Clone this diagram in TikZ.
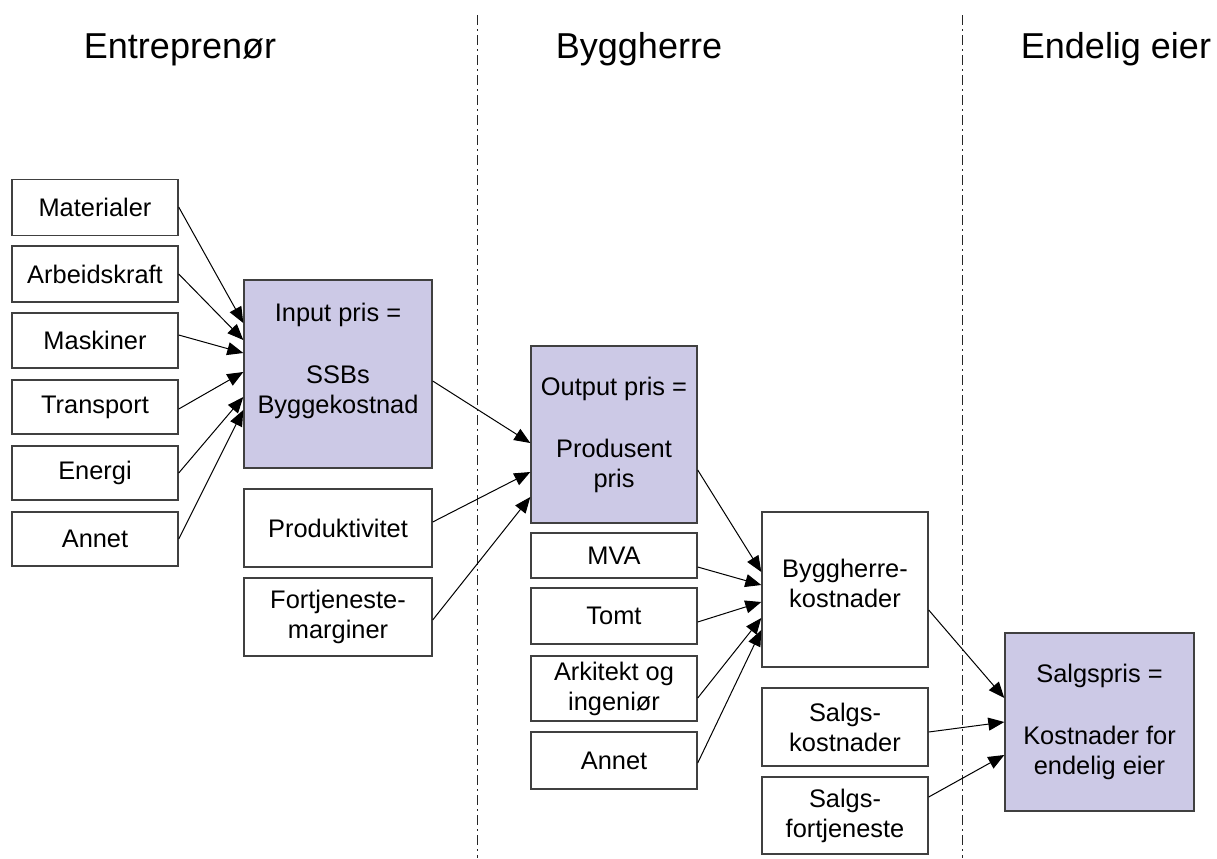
\documentclass[tikz,border=0pt]{standalone}
\usepackage{fontspec}
\setmainfont{Liberation Sans}
\usepackage{tikz}
\usetikzlibrary{arrows.meta}
\definecolor{prisfill}{RGB}{204,201,230}

\begin{document}
\begin{tikzpicture}[x=0.5pt,y=-0.5pt]
	\useasboundingbox (0,0) rectangle (1217,858);

	% skillelinjer
	\begin{scope}[line width=0.5pt, black!85, dash pattern=on 5pt off 2pt on 1pt off 2pt]
	    \draw (477,15) -- (477,858);
	    \draw (962,15) -- (962,858);
	\end{scope}

	\begin{scope}[every node/.style={anchor=base,font=\fontsize{18}{22}\selectfont}]
	    \node (entr) at (180,58) {Entreprenør};
	    \node (bh) at (639,58) {Byggherre};
	    \node (eier) at (1116,58) {Endelig eier};
	\end{scope}

	\begin{scope}[every node/.style={rectangle,draw=black!75,line width=0.7pt,align=center,
	              inner sep=1pt,font=\fontsize{12.7}{15}\selectfont}]
	    \node[minimum width=83pt,minimum height=28pt] (mat) at (95,207.5) {Materialer};
	    \node[minimum width=83pt,minimum height=28pt] (arb) at (95,274) {Arbeidskraft};
	    \node[minimum width=83pt,minimum height=27.5pt] (mask) at (95,340.5) {Maskiner};
	    \node[minimum width=83pt,minimum height=27pt] (trans) at (95,407) {Transport};
	    \node[minimum width=83pt,minimum height=27pt] (energi) at (95,473) {Energi};
	    \node[minimum width=83pt,minimum height=27pt] (annet) at (95,539) {Annet};

	    \node[fill=prisfill,minimum width=94pt,minimum height=94pt,
	          label={[draw=none,fill=none,yshift=6.5pt]center:{Input pris =\\[16pt]SSBs\\Byggekostnad}}]
	          (input) at (338,374) {};
	    \node[minimum width=94pt,minimum height=39pt] (prod) at (338,528) {Produktivitet};
	    \node[minimum width=94pt,minimum height=39pt] (fortj) at (338,617) {Fortjeneste-\\marginer};

	    \node[fill=prisfill,minimum width=83pt,minimum height=88.5pt] (output) at (614,434.5)
	          {Output pris =\\[16pt]Produsent\\pris};
	    \node[minimum width=83pt,minimum height=22.5pt] (mva) at (614,555.5) {MVA};
	    \node[minimum width=83pt,minimum height=28pt] (tomt) at (614,616) {Tomt};
	    \node[minimum width=83pt,minimum height=32.5pt] (ark) at (614,688.5) {Arkitekt og\\ingeniør};
	    \node[minimum width=83pt,minimum height=28.5pt] (annetb) at (614,760.5) {Annet};

	    \node[minimum width=83pt,minimum height=77.5pt,
	          label={[draw=none,fill=none,yshift=3pt]center:{Byggherre-\\kostnader}}]
	          (bygg) at (845,589.5) {};
	    \node[minimum width=83pt,minimum height=39pt] (skost) at (845,727) {Salgs-\\kostnader};
	    \node[minimum width=83pt,minimum height=38.5pt] (sfortj) at (845,815.5) {Salgs-\\fortjeneste};

	    \node[fill=prisfill,minimum width=94.5pt,minimum height=89pt] (salg) at (1099.5,722)
	          {Salgspris =\\[16pt]Kostnader for\\endelig eier};
	\end{scope}

	\begin{scope}[>={Triangle[length=8pt,width=6.5pt]},
	              every edge/.style={draw=black,line width=0.5pt}]
	    \path [->] (mat.east |- 0,207) edge (input.west |- 0,323);
	    \path [->] (arb.east |- 0,274) edge (input.west |- 0,340);
	    \path [->] (mask.east |- 0,335) edge (input.west |- 0,353);
	    \path [->] (trans.east |- 0,409) edge (input.west |- 0,372);
	    \path [->] (energi.east |- 0,473) edge (input.west |- 0,397);
	    \path [->] (annet.east |- 0,539) edge (input.west |- 0,410);

	    \path [->] (input.east |- 0,381) edge (output.west |- 0,443);
	    \path [->] (prod.east |- 0,522) edge (output.west |- 0,472);
	    \path [->] (fortj.east |- 0,620) edge (output.west |- 0,497);

	    \path [->] (output.east |- 0,470) edge (bygg.west |- 0,572);
	    \path [->] (mva.east |- 0,567) edge (bygg.west |- 0,585);
	    \path [->] (tomt.east |- 0,622) edge (bygg.west |- 0,602);
	    \path [->] (ark.east |- 0,698) edge (bygg.west |- 0,618);
	    \path [->] (annetb.east |- 0,763) edge (bygg.west |- 0,630);

	    \path [->] (bygg.east |- 0,610) edge (salg.west |- 0,698);
	    \path [->] (skost.east |- 0,732) edge (salg.west |- 0,722);
	    \path [->] (sfortj.east |- 0,797) edge (salg.west |- 0,755);
	\end{scope}
\end{tikzpicture}
\end{document}
